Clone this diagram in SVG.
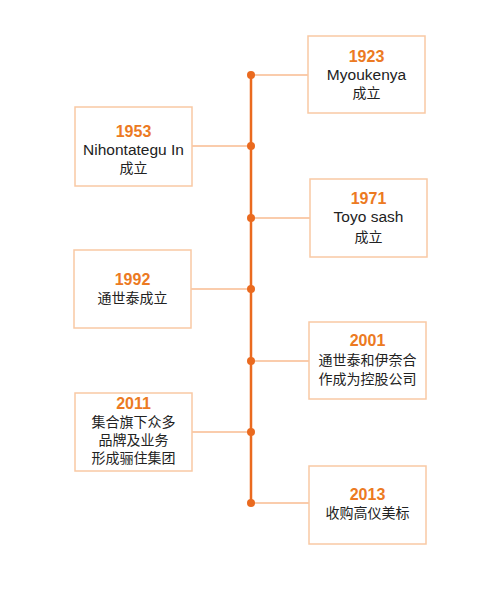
<svg xmlns="http://www.w3.org/2000/svg" width="500" height="605" viewBox="0 0 500 605">
<defs>
<style>
.box{fill:#ffffff;stroke:#f9c9a4;stroke-width:1.5}
.conn{stroke:#f8bb90;stroke-width:1.5;fill:none}
.spine{stroke:#ea6a1f;stroke-width:2.5;fill:none}
.dot{fill:#ea6a1f}
.yr{font-family:"Liberation Sans","Noto Sans CJK SC",sans-serif;font-weight:bold;font-size:16px;fill:#ec7a22;text-anchor:middle}
.tx{font-family:"Liberation Sans","Noto Sans CJK SC",sans-serif;font-size:14px;fill:#222222;text-anchor:middle}
.la{font-size:15.5px}
</style>
</defs>
<rect width="500" height="605" fill="#ffffff"/>
<g id="connectors">
<line class="spine" x1="251" y1="75" x2="251" y2="503"/>
<line class="conn" x1="251" y1="75" x2="308" y2="75"/>
<line class="conn" x1="192" y1="146" x2="251" y2="146"/>
<line class="conn" x1="251" y1="218" x2="310" y2="218"/>
<line class="conn" x1="191" y1="289" x2="251" y2="289"/>
<line class="conn" x1="251" y1="361" x2="309" y2="361"/>
<line class="conn" x1="192" y1="432" x2="251" y2="432"/>
<line class="conn" x1="251" y1="503" x2="309" y2="503"/>
<circle class="dot" cx="251" cy="75" r="4"/>
<circle class="dot" cx="251" cy="146" r="4"/>
<circle class="dot" cx="251" cy="218" r="4"/>
<circle class="dot" cx="251" cy="289" r="4"/>
<circle class="dot" cx="251" cy="361" r="4"/>
<circle class="dot" cx="251" cy="432" r="4"/>
<circle class="dot" cx="251" cy="503" r="4"/>
</g>
<g id="n1923">
<rect class="box" x="308" y="36" width="117" height="77"/>
<text class="yr" x="366.5" y="62">1923</text>
<text class="tx la" x="366.5" y="80">Myoukenya</text>
<text class="tx" x="366.5" y="98">成立</text>
</g>
<g id="n1953">
<rect class="box" x="75" y="107" width="117" height="79"/>
<text class="yr" x="133.5" y="137">1953</text>
<text class="tx la" x="133.5" y="155">Nihontategu In</text>
<text class="tx" x="133.5" y="173">成立</text>
</g>
<g id="n1971">
<rect class="box" x="310" y="179" width="117" height="78"/>
<text class="yr" x="368.5" y="204">1971</text>
<text class="tx la" x="368.5" y="222">Toyo sash</text>
<text class="tx" x="368.5" y="242">成立</text>
</g>
<g id="n1992">
<rect class="box" x="74" y="250" width="117" height="78"/>
<text class="yr" x="132.5" y="285">1992</text>
<text class="tx" x="132.5" y="303">通世泰成立</text>
</g>
<g id="n2001">
<rect class="box" x="309" y="322" width="117" height="77"/>
<text class="yr" x="367.5" y="346">2001</text>
<text class="tx" x="367.5" y="365">通世泰和伊奈合</text>
<text class="tx" x="367.5" y="384">作成为控股公司</text>
</g>
<g id="n2011">
<rect class="box" x="75" y="393" width="117" height="78"/>
<text class="yr" x="133.5" y="409">2011</text>
<text class="tx" x="133.5" y="427">集合旗下众多</text>
<text class="tx" x="133.5" y="445">品牌及业务</text>
<text class="tx" x="133.5" y="463">形成骊住集团</text>
</g>
<g id="n2013">
<rect class="box" x="309" y="466" width="117" height="78"/>
<text class="yr" x="367.5" y="500">2013</text>
<text class="tx" x="367.5" y="518">收购高仪美标</text>
</g>
</svg>
